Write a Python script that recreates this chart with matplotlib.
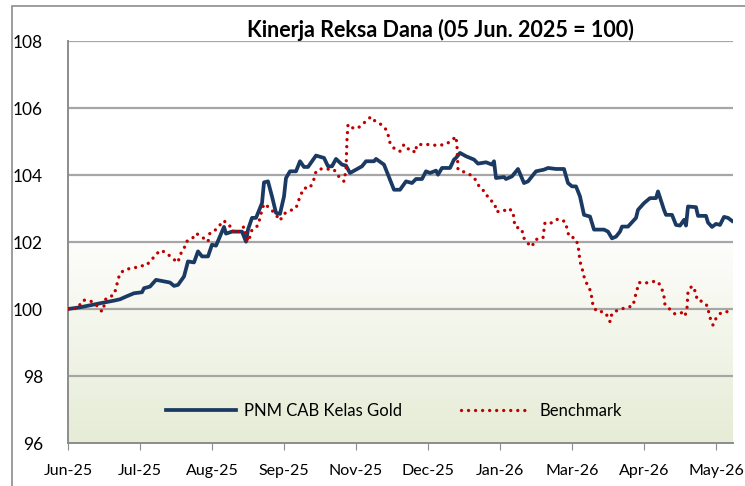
import matplotlib.pyplot as plt
import matplotlib.patches as mpatches
import numpy as np
from matplotlib.colors import LinearSegmentedColormap

plt.rcParams["font.family"] = ["Lato", "DejaVu Sans"]

# (day, index value), 05 Jun 2025 = 100
fund_pts = [
    (0, 100.00), (6, 100.05), (16, 100.17), (23, 100.25), (26, 100.29),
    (29, 100.37), (33, 100.47), (37, 100.50), (38, 100.62), (41, 100.67),
    (44, 100.87), (51, 100.79), (53, 100.69), (55, 100.72), (58, 100.97),
    (60, 101.42), (63, 101.39), (65, 101.72), (67, 101.57), (70, 101.57),
    (72, 101.92), (74, 101.89), (78, 102.45), (79, 102.25), (82, 102.31),
    (87, 102.31), (89, 102.01), (90, 102.37), (92, 102.72), (94, 102.72),
    (97, 103.16), (98, 103.78), (100, 103.81), (102, 103.36), (104, 102.87),
    (106, 102.84), (108, 103.36), (109, 103.91), (111, 104.11), (114, 104.11),
    (116, 104.41), (118, 104.24), (120, 104.24), (124, 104.58), (128, 104.51),
    (130, 104.26), (132, 104.26), (134, 104.48), (137, 104.31), (139, 104.28),
    (141, 104.06), (144, 104.16), (147, 104.26), (149, 104.41), (153, 104.41),
    (154, 104.48), (158, 104.31), (160, 104.01), (163, 103.56), (166, 103.56),
    (169, 103.81), (172, 103.76), (174, 103.88), (177, 103.88), (179, 104.11),
    (181, 104.06), (184, 104.13), (185, 104.01), (187, 104.21), (191, 104.21),
    (193, 104.46), (194, 104.51), (196, 104.66), (199, 104.56), (203, 104.46),
    (205, 104.34), (209, 104.38), (212, 104.31), (213, 104.41), (214, 103.91),
    (218, 103.94), (219, 103.88), (222, 103.96), (225, 104.18), (228, 103.76),
    (230, 103.81), (234, 104.11), (238, 104.16), (240, 104.21), (244, 104.18),
    (248, 104.18), (250, 103.76), (252, 103.66), (254, 103.66), (256, 103.36),
    (258, 102.81), (261, 102.76), (263, 102.37), (268, 102.37), (270, 102.31),
    (272, 102.11), (274, 102.16), (276, 102.31), (277, 102.46), (280, 102.46),
    (284, 102.72), (285, 102.96), (288, 103.16), (291, 103.31), (294, 103.31),
    (295, 103.51), (298, 102.96), (299, 102.81), (302, 102.81), (304, 102.51),
    (306, 102.49), (308, 102.66), (309, 102.49), (310, 103.06), (314, 103.04),
    (315, 102.78), (319, 102.78), (320, 102.58), (322, 102.45), (324, 102.54),
    (326, 102.51), (328, 102.75), (330, 102.72), (332, 102.63),
]

bench_pts = [
    (0, 100.00), (5, 100.02), (7, 100.25), (9, 100.27), (12, 100.22),
    (15, 100.07), (17, 99.92), (18, 100.09), (19, 100.32), (23, 100.42),
    (24, 100.62), (25, 100.87), (26, 101.07), (29, 101.19), (33, 101.22),
    (36, 101.29), (39, 101.29), (41, 101.42), (44, 101.62), (46, 101.75),
    (49, 101.69), (52, 101.52), (55, 101.39), (56, 101.62), (58, 101.79),
    (59, 102.01), (62, 102.09), (64, 102.26), (67, 102.15), (70, 102.01),
    (71, 102.28), (74, 102.37), (76, 102.51), (78, 102.64), (80, 102.49),
    (82, 102.46), (83, 102.25), (86, 102.34), (88, 102.46), (89, 102.19),
    (90, 102.01), (91, 102.16), (92, 102.37), (95, 102.49), (97, 102.96),
    (98, 103.14), (101, 103.01), (104, 102.81), (106, 102.64), (108, 102.84),
    (110, 102.91), (114, 103.01), (116, 103.36), (118, 103.61), (121, 103.61),
    (123, 103.88), (124, 104.11), (126, 104.18), (129, 104.18), (133, 104.16),
    (135, 103.98), (138, 103.81), (139, 104.16), (139.5, 105.06), (140, 105.51),
    (143, 105.38), (146, 105.44), (149, 105.61), (151.5, 105.74), (153.5, 105.61),
    (156, 105.53), (158.5, 105.41), (160, 105.21), (161, 104.96), (163.5, 104.76),
    (166, 104.71), (168, 104.91), (170, 104.78), (172, 104.78), (173.5, 104.66),
    (174.5, 104.91), (178, 104.91), (181, 104.91), (184.5, 104.88), (188.5, 104.91),
    (191.5, 105.01), (194, 105.15), (194.5, 104.86), (195, 104.16), (198.5, 104.08),
    (202, 103.98), (204, 103.84), (206, 103.61), (209, 103.48), (210, 103.31),
    (213.5, 103.14), (214, 102.91), (217.5, 102.91), (220, 103.01), (222.5, 102.91),
    (223, 102.66), (223.5, 102.46), (227, 102.38), (227.5, 102.16), (229.5, 101.98),
    (232, 101.86), (233.5, 102.07), (237.5, 102.12), (238, 102.37), (238.5, 102.58),
    (242, 102.57), (245, 102.69), (248.5, 102.61), (249.5, 102.41), (250.5, 102.16),
    (253.5, 102.12), (255, 101.92), (255.5, 101.67), (256, 101.42), (257, 101.22),
    (258, 100.97), (259.5, 100.74), (261, 100.57), (262, 100.32), (262.5, 100.09),
    (264.5, 99.92), (268, 99.92), (270, 99.77), (271, 99.62), (272, 99.87),
    (275, 99.97), (279.5, 100.05), (282.5, 100.09), (283.5, 100.35), (284.5, 100.57),
    (285.5, 100.79), (288.5, 100.77), (292, 100.82), (295, 100.82), (297, 100.59),
    (298, 100.37), (298.5, 100.12), (301, 99.99), (303.5, 99.85), (307, 99.89),
    (308.5, 99.79), (309.5, 100.02), (310, 100.52), (312, 100.69), (314, 100.49),
    (314.5, 100.27), (317.5, 100.22), (320, 100.07), (320.5, 99.82), (322.5, 99.52),
    (324, 99.72), (326.5, 99.89), (329.5, 99.92),
]

fund_x, fund = zip(*fund_pts)
bench_x, bench = zip(*bench_pts)

tick_pos = [0, 36, 72, 108, 144, 180, 216, 252, 288, 324]
tick_labels = ["Jun-25", "Jul-25", "Aug-25", "Sep-25", "Nov-25", "Dec-25",
               "Jan-26", "Mar-26", "Apr-26", "May-26"]
y_ticks = [96, 98, 100, 102, 104, 106, 108]

fig = plt.figure(figsize=(7.45, 4.86), dpi=100)
ax = fig.add_axes([68 / 745, 43 / 486, 665 / 745, 402 / 486])

# outer chart frame
frame = mpatches.Rectangle((12 / 745, -0.1), 1.2, 0.1 + 480 / 486,
                           transform=fig.transFigure, fill=False,
                           edgecolor="#8c8c8c", linewidth=1.2)
fig.patches.append(frame)

x_max = 332.5
# light green gradient in the lower part of the plot area
grad = LinearSegmentedColormap.from_list("g", ["#fdfdfb", "#e6ecd6"])
ax.imshow(np.linspace(0, 1, 100).reshape(-1, 1), cmap=grad, aspect="auto",
          extent=[0, x_max, 96, 102], origin="upper", zorder=0)

for y in y_ticks[1:]:
    ax.axhline(y, color="#a6a6a6", linewidth=1.6, zorder=1)

ax.plot(fund_x, fund, color="#1b3a63", linewidth=2.7, solid_joinstyle="round",
        label="PNM CAB Kelas Gold", zorder=3)
ax.plot(bench_x, bench, color="#c00000", linewidth=2.4, linestyle=(0, (0.01, 2.1)),
        dash_capstyle="round", label="Benchmark", zorder=4)

ax.set_xlim(0, x_max)
ax.set_ylim(96, 108)
ax.set_xticks(tick_pos)
ax.set_xticklabels(tick_labels)
ax.set_yticks(y_ticks)
ax.tick_params(axis="x", length=5, color="#8c8c8c", labelsize=11.5, pad=10)
ax.tick_params(axis="y", length=0, labelsize=12.5, pad=18)
for s in ["top", "right"]:
    ax.spines[s].set_visible(False)
for s in ["left", "bottom"]:
    ax.spines[s].set_color("#8c8c8c")
    ax.spines[s].set_linewidth(1.4)

ax.legend(loc="center", bbox_to_anchor=(0.49, 0.08), ncol=2, frameon=False,
          fontsize=12, handlelength=4.2, columnspacing=3.5, handletextpad=0.5)

fig.text(440 / 745, 1 - 30 / 486, "Kinerja Reksa Dana (05 Jun. 2025 = 100)",
         ha="center", va="center", fontsize=15.5, fontweight="bold")

fig.savefig("out.png", dpi=100)
